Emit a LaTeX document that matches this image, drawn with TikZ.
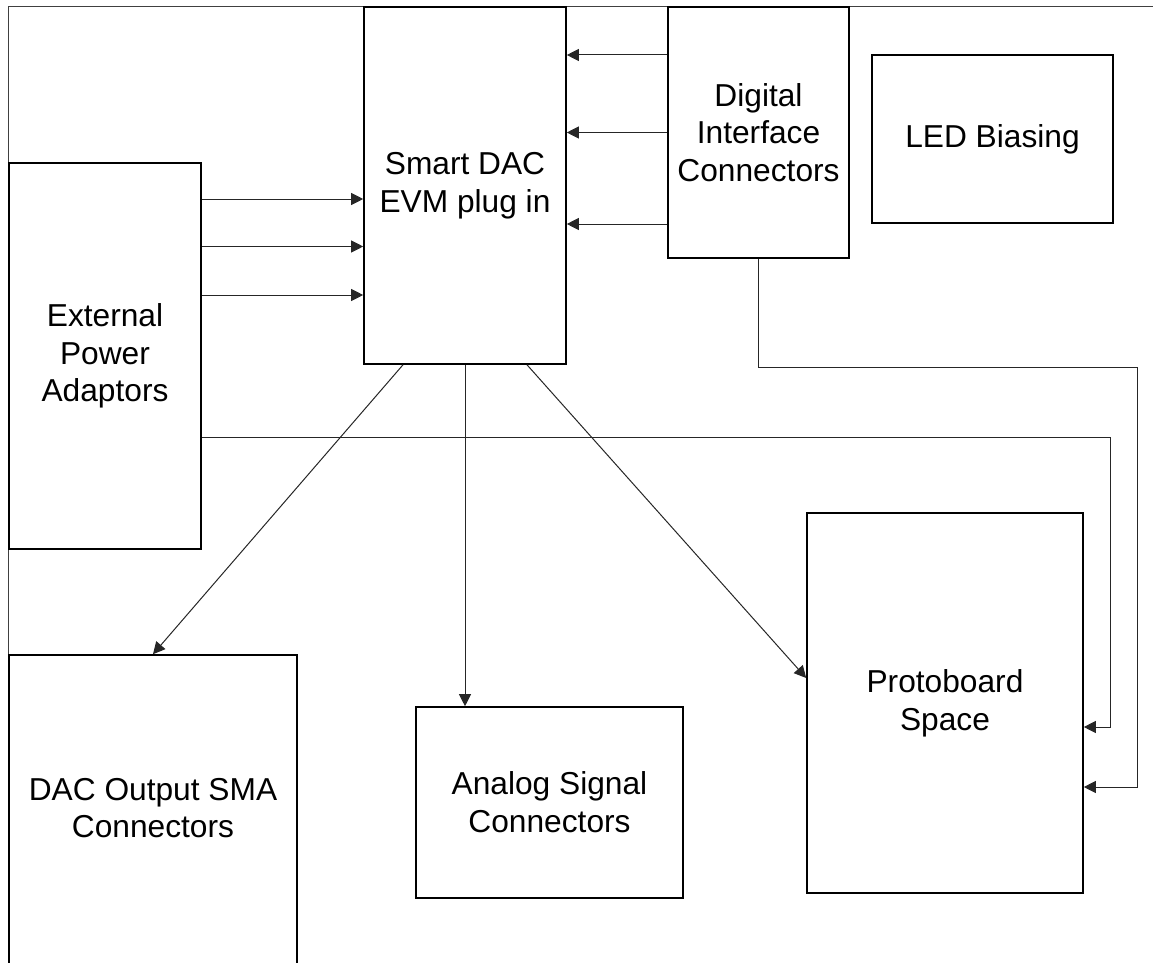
\documentclass[tikz,border=0pt]{standalone}
\usepackage{fontspec}
\setmainfont{Liberation Sans}
\usetikzlibrary{arrows.meta,calc}
\tikzset{
  txt/.style={align=center, font=\fontsize{31.7}{37.7}\selectfont},
  blk/.style={txt, draw=black, line width=1.6pt, rectangle, inner sep=1pt},
  conn/.style={draw=black!85, line width=1pt},
  arr/.style={conn, -{Triangle[length=12pt,width=12pt]}},
  frame/.style={draw=black!75, line width=1pt}
}
\begin{document}
\begin{tikzpicture}[x=1pt,y=1pt]
\useasboundingbox (0,0) rectangle (1153,-963);
\clip (0,0) rectangle (1153,-963);
% outer frame (partly off the page)
\draw[frame] (8,-7) rectangle (1170,-990);
% blocks
\node[blk, minimum width=202pt, minimum height=357pt] (dac) at (465,-185.5) {Smart DAC\\EVM plug in};
\node[blk, minimum width=181pt, minimum height=251pt] (dig) at (758.5,-132.5) {Digital\\Interface\\Connectors};
\node[blk, minimum width=241pt, minimum height=168pt] (led) at (992.5,-139) {LED Biasing};
\node[blk, minimum width=192pt, minimum height=386pt] (pwr) at (105,-356) {External\\Power\\Adaptors};
\node[blk, minimum width=288pt, minimum height=330pt] (sma) at (153,-820) {};
\node[txt] (smatext) at (153,-808) {DAC Output SMA\\Connectors};
\node[blk, minimum width=267pt, minimum height=191pt] (ana) at (549.5,-802.5) {Analog Signal\\Connectors};
\node[blk, minimum width=276pt, minimum height=380pt] (proto) at (945,-703) {Protoboard\\Space};
% helper coordinates
\coordinate (a1) at (0,-199);
\coordinate (a2) at (0,-246.5);
\coordinate (a3) at (0,-295);
\coordinate (b1) at (0,-55);
\coordinate (b2) at (0,-132.5);
\coordinate (b3) at (0,-224);
\coordinate (d1) at (403,0);
\coordinate (d2) at (465,0);
\coordinate (d3) at (527,0);
\coordinate (t1) at (1110,-437);
\coordinate (t2) at (1110,-727);
\coordinate (u1) at (758.5,-367);
\coordinate (u2) at (1137,-367);
\coordinate (u3) at (1137,-787);
\coordinate (pin) at (0,-678);
% power -> DAC
\draw[arr] (pwr.east |- a1) -- (dac.west |- a1);
\draw[arr] (pwr.east |- a2) -- (dac.west |- a2);
\draw[arr] (pwr.east |- a3) -- (dac.west |- a3);
% digital -> DAC
\draw[arr] (dig.west |- b1) -- (dac.east |- b1);
\draw[arr] (dig.west |- b2) -- (dac.east |- b2);
\draw[arr] (dig.west |- b3) -- (dac.east |- b3);
% DAC outputs
\draw[arr] (d1 |- dac.south) -- (sma.north);
\draw[arr] (d2 |- dac.south) -- (d2 |- ana.north);
\draw[arr] (d3 |- dac.south) -- (proto.west |- pin);
% power -> protoboard
\draw[arr] (pwr.east |- t1) -- (t1) -- (t2) -- (proto.east |- t2);
% digital -> protoboard
\draw[arr] (dig.south) -- (u1) -- (u2) -- (u3) -- (proto.east |- u3);
\end{tikzpicture}
\end{document}
